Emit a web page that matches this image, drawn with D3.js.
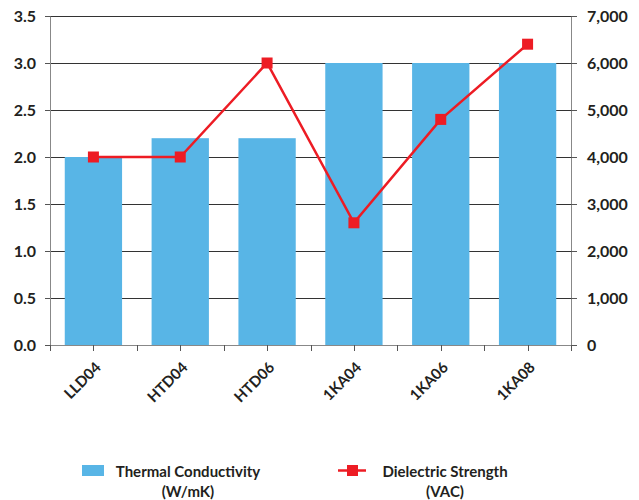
<!DOCTYPE html>
<html>
<head>
<meta charset="utf-8">
<script src="https://cdn.jsdelivr.net/npm/d3@7"></script>
<style>
  body { margin: 0; background: #fff; }
  text { font-family: Lato, "Open Sans", sans-serif; font-weight: 700; fill: #231f20; }
</style>
</head>
<body>
<div id="chart"></div>
<script>
// data
const categories = ["LLD04", "HTD04", "HTD06", "1KA04", "1KA06", "1KA08"];
const conductivity = [2.0, 2.2, 2.2, 3.0, 3.0, 3.0];
const dielectric = [4000, 4000, 6000, 2600, 4800, 6400];
const leftTicks = [0, 0.5, 1.0, 1.5, 2.0, 2.5, 3.0, 3.5];
const rightTicks = [0, 1000, 2000, 3000, 4000, 5000, 6000, 7000];

let margin = {top: 16, right: 68, bottom: 155, left: 50},
    width = 639 - margin.left - margin.right,
    height = 500 - margin.top - margin.bottom;

let svg = d3.select("#chart").append("svg")
    .attr("width", 639).attr("height", 500)
  .append("g")
    .attr("transform", "translate(" + margin.left + "," + margin.top + ")");

let x = d3.scaleBand().domain(categories).range([0, width]).paddingInner(0.34).paddingOuter(0.17);
let xb = d3.scaleBand().domain(categories).range([0, width]); // for ticks
let yL = d3.scaleLinear().domain([0, 3.5]).range([height, 0]);
let yR = d3.scaleLinear().domain([0, 7000]).range([height, 0]);

// gridlines
svg.append("g").selectAll("line").data(leftTicks.slice(1)).join("line")
  .attr("x1", 0).attr("x2", width)
  .attr("y1", d => Math.round(yL(d)) + 0.5).attr("y2", d => Math.round(yL(d)) + 0.5)
  .attr("stroke", "#333").attr("stroke-width", 1);

// bars
svg.append("g").selectAll("rect").data(categories).join("rect")
  .attr("x", d => x(d))
  .attr("width", x.bandwidth())
  .attr("y", (d, i) => yL(conductivity[i]))
  .attr("height", (d, i) => height - yL(conductivity[i]))
  .attr("fill", "#58b5e6");

// left axis
let axL = svg.append("g")
  .call(d3.axisLeft(yL).tickValues(leftTicks).tickFormat(d3.format(".1f")).tickSize(5).tickSizeOuter(0));
axL.select(".domain").attr("stroke", "#888");
axL.selectAll(".tick line").attr("stroke", "#555");
axL.selectAll("text").attr("x", -14).style("font-size", "16px").attr("font-family", null).attr("fill", null);

// right axis
let axR = svg.append("g").attr("transform", "translate(" + width + ",0)")
  .call(d3.axisRight(yR).tickValues(rightTicks).tickFormat(d3.format(",")).tickSize(6).tickSizeOuter(0));
axR.select(".domain").attr("stroke", "#888");
axR.selectAll(".tick line").attr("stroke", "#555");
axR.selectAll("text").attr("x", 16).style("font-size", "16px").attr("font-family", null).attr("fill", null);

// bottom axis: ticks at band edges and centres
let bottom = svg.append("g").attr("transform", "translate(0," + height + ")");
bottom.append("line").attr("x1", 0).attr("x2", width).attr("y1", 0.5).attr("y2", 0.5).attr("stroke", "#888");
let tickPos = [];
categories.forEach(c => { tickPos.push(xb(c)); tickPos.push(xb(c) + xb.bandwidth() / 2); });
tickPos.push(width);
bottom.selectAll("line.t").data(tickPos).join("line").attr("class", "t")
  .attr("x1", d => Math.round(d) + 0.5).attr("x2", d => Math.round(d) + 0.5)
  .attr("y1", 0).attr("y2", 6).attr("stroke", "#555");
bottom.selectAll("text").data(categories).join("text")
  .attr("text-anchor", "end")
  .attr("transform", d => "translate(" + (xb(d) + xb.bandwidth() / 2 + 1) + ",16) rotate(-45)")
  .attr("dy", "0.7em")
  .style("font-size", "15px")
  .text(d => d);

// line series
let line = d3.line()
  .x(d => x(d[0]) + x.bandwidth() / 2)
  .y(d => yR(d[1]));
let pts = categories.map((c, i) => [c, dielectric[i]]);
svg.append("path").datum(pts)
  .attr("fill", "none").attr("stroke", "#ed1c24").attr("stroke-width", 2.5)
  .attr("d", line);
svg.append("g").selectAll("rect").data(pts).join("rect")
  .attr("x", d => x(d[0]) + x.bandwidth() / 2 - 5.5)
  .attr("y", d => yR(d[1]) - 5.5)
  .attr("width", 11).attr("height", 11)
  .attr("fill", "#ed1c24");

// legend
let legend = d3.select("svg").append("g");
legend.append("rect").attr("x", 82).attr("y", 465).attr("width", 22).attr("height", 11).attr("fill", "#58b5e6");
legend.append("text").attr("x", 188).attr("y", 477).attr("text-anchor", "middle").style("font-size", "15px").text("Thermal Conductivity");
legend.append("text").attr("x", 188).attr("y", 497).attr("text-anchor", "middle").style("font-size", "15px").text("(W/mK)");
legend.append("line").attr("x1", 338).attr("x2", 366).attr("y1", 470.5).attr("y2", 470.5).attr("stroke", "#ed1c24").attr("stroke-width", 2.5);
legend.append("rect").attr("x", 347).attr("y", 465).attr("width", 11).attr("height", 11).attr("fill", "#ed1c24");
legend.append("text").attr("x", 445).attr("y", 477).attr("text-anchor", "middle").style("font-size", "15px").text("Dielectric Strength");
legend.append("text").attr("x", 445).attr("y", 497).attr("text-anchor", "middle").style("font-size", "15px").text("(VAC)");
</script>
</body>
</html>
